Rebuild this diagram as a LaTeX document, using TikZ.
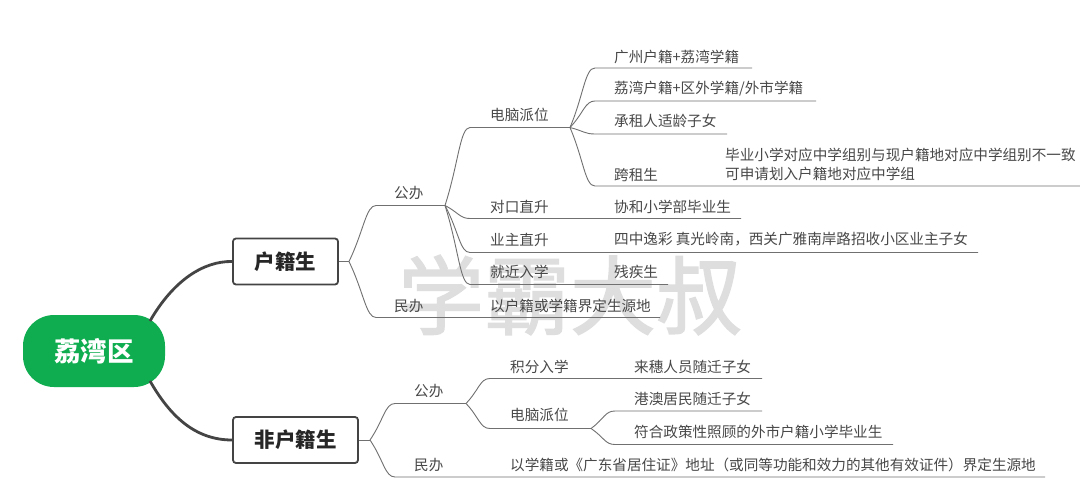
\documentclass[tikz,border=0pt]{standalone}
\usepackage{fontspec}
\setmainfont{Noto Sans CJK SC}
\newfontfamily\wmfont[FakeBold=1.6]{Noto Sans CJK SC}
\usetikzlibrary{calc}
\definecolor{txt}{HTML}{484848}
\definecolor{ln}{HTML}{707070}
\definecolor{thick}{HTML}{444444}
\definecolor{grn}{HTML}{0FAD50}
\definecolor{wm}{HTML}{DEDEDE}
\newcommand{\branch}[3]{\draw[brline] (#1) .. controls ($(#1)!.55!(#2)$) and ($(#2)+(-10,0)$) .. (#2) -- (#3);}
\begin{document}
\begin{tikzpicture}[x=1pt,y=-1pt,
  lbl/.style={anchor=west,inner sep=0pt,text=txt,font=\fontsize{14.6}{19}\selectfont,align=left},
  brline/.style={draw=ln,line width=0.9pt},
  boxnode/.style={draw=thick,line width=1.8pt,rounded corners=3pt,fill=white,inner sep=0pt,text=black!85,font=\fontsize{20.5}{24}\selectfont\bfseries},
  mainline/.style={draw=thick,line width=2.8pt}]
\useasboundingbox (0,0) rectangle (1080,493);
\fill[white] (0,0) rectangle (1080,493);
\node[inner sep=0pt,text=wm,font=\fontsize{86}{90}\selectfont\wmfont] (wmark) at (570,295) {学霸大叔};

\node[fill=grn,rounded corners=31pt,minimum width=142pt,minimum height=72pt,inner sep=0pt,text=white,font=\fontsize{26.5}{30}\selectfont\bfseries] (root) at (94,351) {荔湾区};
\node[boxnode,minimum width=105pt,minimum height=46pt] (hu) at (285.5,261.5) {户籍生};
\node[boxnode,minimum width=125pt,minimum height=46pt] (fei) at (295.5,440) {非户籍生};
\coordinate (ru) at (150,321);
\coordinate (rl) at (150,381);
\draw[mainline] (ru) .. controls (173,281) and (203,261) .. (hu.west);
\draw[mainline] (rl) .. controls (170,416) and (195,440) .. (fei.west);

% junctions
\coordinate (j0) at (349,261.5);
\coordinate (j1) at (445,205.5);
\coordinate (j2) at (570,127.5);
\coordinate (j5) at (370,440);
\coordinate (j3) at (466,403.5);
\coordinate (j4) at (591,428.5);
\draw[brline] (hu.east) -- (j0);
\draw[brline] (fei.east) -- (j5);

% upper tree
\coordinate (k1) at (376,205.5); \branch{j0}{k1}{j1}
\coordinate (k2) at (376,317.5); \coordinate (e2) at (660,317.5); \branch{j0}{k2}{e2}
\coordinate (k3) at (470,127.5); \branch{j1}{k3}{j2}
\coordinate (k4) at (470,218.5); \coordinate (e4) at (741,218.5); \branch{j1}{k4}{e4}
\coordinate (k5) at (470,252.5); \coordinate (e5) at (978,252.5); \branch{j1}{k5}{e5}
\coordinate (k6) at (470,284.5); \coordinate (e6) at (668,284.5); \branch{j1}{k6}{e6}
\coordinate (k7) at (595,68); \coordinate (e7) at (752,68); \branch{j2}{k7}{e7}
\coordinate (k8) at (595,101); \coordinate (e8) at (816,101); \branch{j2}{k8}{e8}
\coordinate (k9) at (595,134); \coordinate (e9) at (727,134); \branch{j2}{k9}{e9}
\coordinate (k10) at (595,186); \coordinate (e10) at (1080,186); \branch{j2}{k10}{e10}

% lower tree
\coordinate (k11) at (395,403.5); \branch{j5}{k11}{j3}
\coordinate (k12) at (395,477); \coordinate (e12) at (1045,477); \branch{j5}{k12}{e12}
\coordinate (k13) at (490,378.5); \coordinate (e13) at (762,378.5); \branch{j3}{k13}{e13}
\coordinate (k14) at (490,428.5); \branch{j3}{k14}{j4}
\coordinate (k15) at (615,411); \coordinate (e15) at (762,411); \branch{j4}{k15}{e15}
\coordinate (k16) at (615,444.5); \coordinate (e16) at (893,444.5); \branch{j4}{k16}{e16}

% labels
\node[lbl] (a1) at (394,192.5) {公办};
\node[lbl] (a2) at (394,305.5) {民办};
\node[lbl] (b1) at (490,114.5) {电脑派位};
\node[lbl] (c1) at (614,56.5) {广州户籍+荔湾学籍};
\node[lbl] (c2) at (614,88.5) {荔湾户籍+区外学籍/外市学籍};
\node[lbl] (c3) at (614,121) {承租人适龄子女};
\node[lbl] (c4) at (614,174.5) {跨租生};
\node[lbl] (c5) at (725,164) {毕业小学对应中学组别与现户籍地对应中学组别不一致\\可申请划入户籍地对应中学组};
\node[lbl] (b2) at (490,206.5) {对口直升};
\node[lbl] (d2) at (614,206.5) {协和小学部毕业生};
\node[lbl] (b3) at (490,239.5) {业主直升};
\node[lbl] (d3) at (614,239.5) {四中逸彩 真光岭南，西关广雅南岸路招收小区业主子女};
\node[lbl] (b4) at (490,271.5) {就近入学};
\node[lbl] (d4) at (614,271.5) {残疾生};
\node[lbl] (b5) at (490,305.5) {以户籍或学籍界定生源地};
\node[lbl] (f1) at (414,390.5) {公办};
\node[lbl] (f2) at (414,464.5) {民办};
\node[lbl] (g1) at (510,366.5) {积分入学};
\node[lbl] (h1) at (634,366.5) {来穗人员随迁子女};
\node[lbl] (g2) at (510,415) {电脑派位};
\node[lbl] (h2) at (634,398.5) {港澳居民随迁子女};
\node[lbl] (h3) at (634,431.5) {符合政策性照顾的外市户籍小学毕业生};
\node[lbl] (g3) at (510,464.5) {以学籍或《广东省居住证》地址（或同等功能和效力的其他有效证件）界定生源地};
\end{tikzpicture}
\end{document}
